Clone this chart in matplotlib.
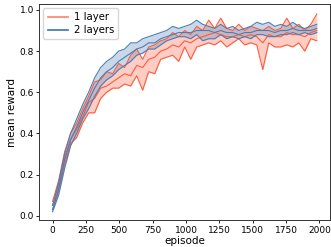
import numpy as np
import matplotlib
matplotlib.use("Agg")
import matplotlib.pyplot as plt

episodes = list(range(0, 1981, 45))

red_mean = [0.05, 0.15, 0.28, 0.37, 0.42, 0.48, 0.55, 0.57, 0.62, 0.63, 0.65, 0.67, 0.69, 0.68, 0.73,
            0.72, 0.76, 0.77, 0.80, 0.81, 0.83, 0.82, 0.85, 0.84, 0.86, 0.87, 0.88, 0.89, 0.88, 0.87,
            0.87, 0.88, 0.87, 0.88, 0.87, 0.84, 0.88, 0.87, 0.87, 0.89, 0.88, 0.88, 0.87, 0.89, 0.90]
red_upper = [0.07, 0.17, 0.31, 0.40, 0.45, 0.52, 0.58, 0.65, 0.66, 0.70, 0.69, 0.74, 0.72, 0.78, 0.81,
             0.76, 0.82, 0.83, 0.85, 0.86, 0.89, 0.87, 0.90, 0.88, 0.92, 0.90, 0.95, 0.91, 0.96, 0.91,
             0.90, 0.93, 0.90, 0.92, 0.91, 0.90, 0.92, 0.90, 0.91, 0.96, 0.91, 0.93, 0.90, 0.93, 0.98]
red_lower = [0.03, 0.12, 0.25, 0.35, 0.38, 0.45, 0.50, 0.50, 0.57, 0.60, 0.62, 0.62, 0.64, 0.63, 0.68,
             0.61, 0.70, 0.69, 0.76, 0.77, 0.78, 0.75, 0.82, 0.76, 0.82, 0.83, 0.84, 0.83, 0.85, 0.82,
             0.84, 0.86, 0.83, 0.84, 0.83, 0.71, 0.84, 0.82, 0.82, 0.83, 0.82, 0.84, 0.80, 0.86, 0.85]

blue_mean = [0.03, 0.13, 0.27, 0.37, 0.43, 0.50, 0.56, 0.62, 0.67, 0.70, 0.72, 0.75, 0.77, 0.79, 0.81,
             0.82, 0.84, 0.84, 0.86, 0.87, 0.88, 0.89, 0.89, 0.89, 0.90, 0.90, 0.90, 0.89, 0.90, 0.89,
             0.89, 0.88, 0.89, 0.89, 0.90, 0.90, 0.90, 0.89, 0.90, 0.90, 0.91, 0.90, 0.90, 0.90, 0.91]
blue_upper = [0.05, 0.16, 0.30, 0.40, 0.47, 0.54, 0.60, 0.67, 0.72, 0.75, 0.77, 0.80, 0.81, 0.84, 0.84,
              0.86, 0.87, 0.88, 0.89, 0.90, 0.92, 0.91, 0.92, 0.93, 0.95, 0.93, 0.92, 0.91, 0.93, 0.91,
              0.92, 0.90, 0.91, 0.92, 0.94, 0.93, 0.94, 0.92, 0.93, 0.92, 0.94, 0.92, 0.91, 0.92, 0.93]
blue_lower = [0.02, 0.10, 0.23, 0.34, 0.40, 0.47, 0.52, 0.58, 0.63, 0.66, 0.68, 0.71, 0.73, 0.75, 0.78,
              0.79, 0.81, 0.81, 0.83, 0.85, 0.86, 0.87, 0.87, 0.86, 0.88, 0.85, 0.86, 0.86, 0.88, 0.86,
              0.87, 0.86, 0.87, 0.86, 0.88, 0.88, 0.87, 0.87, 0.88, 0.88, 0.89, 0.88, 0.89, 0.88, 0.89]

labels = ["1 layer", "2 layers"]
red = "#ff5a3c"
blue = "#4a7fb5"

fig = plt.figure(figsize=(3.31, 2.47), dpi=100)
ax = fig.add_axes([0.119, 0.109, 0.878, 0.875])

for mean, up, lo, c, lab, la in [(red_mean, red_upper, red_lower, red, labels[0], 0.7),
                                 (blue_mean, blue_upper, blue_lower, blue, labels[1], 1.0)]:
    ax.fill_between(episodes, lo, up, color=c, alpha=0.3, lw=0)
    ax.plot(episodes, up, color=c, lw=0.8)
    ax.plot(episodes, lo, color=c, lw=0.8)
    ax.plot(episodes, mean, color=c, lw=0.8)
    ax.plot([], [], color=c, lw=1.3, alpha=la, label=lab)

ax.set_xlim(-99, 2079)
ax.set_ylim(-0.021, 1.029)
ax.set_xticks([0, 250, 500, 750, 1000, 1250, 1500, 1750, 2000])
ax.set_yticks([0.0, 0.2, 0.4, 0.6, 0.8, 1.0])
ax.tick_params(labelsize=6.5, length=2.5, width=0.6, pad=1.5)
for s in ax.spines.values():
    s.set_linewidth(0.7)
    s.set_color("#333333")
ax.set_xlabel("episode", fontsize=7.5, labelpad=1)
ax.set_ylabel("mean reward", fontsize=7.5, labelpad=2)
ax.legend(loc="upper left", fontsize=7.3, handlelength=2, borderpad=0.4, labelspacing=0.3,
          handletextpad=0.6, borderaxespad=0.4)
fig.savefig("out.png", dpi=100)
